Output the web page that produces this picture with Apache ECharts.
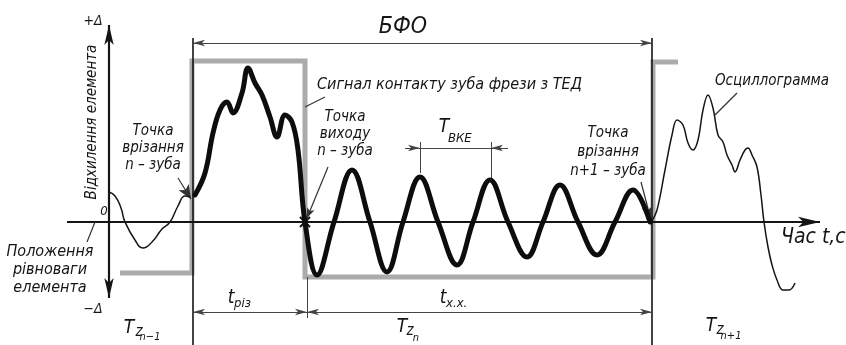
<!DOCTYPE html>
<html><head><meta charset="utf-8">
<script src="https://cdn.jsdelivr.net/npm/echarts@6/dist/echarts.min.js"></script>
<style>html,body{margin:0;padding:0;background:#fff}#c{width:846px;height:345px}</style>
</head><body><div id="c"></div>
<script>
// Time t and deviation v in arbitrary drawing units (origin at the axes crossing)
const leftWaveT  = [0, 0.6, 1.2, 1.6, 2.6, 3.4, 4.3, 5.3, 6.1, 6.9, 7.6, 8.1];
const leftWaveV  = [3.0, 2.6, 1.4, 0, -1.8, -2.6, -2.0, -0.7, 0, 1.6, 2.6, 2.5];

const mainWaveT = [8.6, 9.6, 10.4, 11.1, 11.8, 12.4, 13.3, 13.9, 14.6, 15.3, 16.1, 16.8, 17.6, 18.3, 18.9, 19.6,
  20.8, 22.5, 24.3, 26.1, 27.8, 29.4, 31.1, 32.9, 34.8, 36.4, 38.1, 39.9, 41.8, 43.4, 45.1, 46.9, 48.8, 50.6, 52.4, 54.1];
const mainWaveV = [2.7, 4.9, 8.9, 11.2, 12.0, 10.9, 12.9, 15.4, 13.9, 12.7, 10.5, 8.5, 10.7, 10.0, 7.2, 0,
  -5.3, 0, 5.2, 0, -5.0, 0, 4.5, 0, -4.3, 0, 4.2, 0, -3.5, 0, 3.7, 0, -3.3, 0, 3.2, 0];

const rightWaveT = [54.3, 54.8, 55.6, 56.3, 56.8, 57.4, 57.9, 58.4, 58.9, 59.4, 59.9, 60.4, 60.9, 61.4, 61.8, 62.3, 62.6,
  63.1, 63.6, 63.9, 64.3, 64.8, 65.2, 65.5, 65.9, 66.3, 66.8, 67.4, 68.0, 68.6];
const rightWaveV = [0.1, 1.2, 5.2, 8.7, 10.2, 9.7, 7.9, 7.2, 8.2, 11.2, 12.7, 11.4, 8.7, 8.0, 6.7, 5.7, 5.0,
  6.2, 7.2, 7.4, 6.7, 5.5, 2.7, 0, -2.5, -4.3, -5.8, -6.8, -6.8, -6.1];

const signalT = [1.1, 8.3, 8.3, 19.6, 19.6, 54.4, 54.4, 56.9];
const signalV = [-5.1, -5.1, 16.1, 16.1, -5.5, -5.5, 16.0, 16.0];

// key time marks
const tCutIn = 8.4, tExit = 19.8, tNext = 54.3;
const tPeakA = 31.1, tPeakB = 38.2;

const zip = (a, b) => a.map((x, i) => [x, b[i]]);
const FONT = "'DejaVu Sans Condensed','Liberation Sans Narrow',sans-serif";
const INK = '#151515';

function seg(a, b, s1, s2, size) {
  return [{coord: a, symbol: s1 || 'none', symbolSize: size || [7, 11]},
          {coord: b, symbol: s2 || 'none', symbolSize: size || [7, 11]}];
}
function txt(x, y, text, size, extra) {
  return Object.assign({
    type: 'text', x: x, y: y, silent: true,
    style: Object.assign({text: text, fontSize: size, fontFamily: FONT, fontStyle: 'italic',
      fill: INK, align: 'center', verticalAlign: 'middle'}, (extra && extra.style) || {})
  }, extra && extra.rotation !== undefined ? {rotation: extra.rotation} : {});
}

const chart = echarts.init(document.getElementById('c'), null, {renderer: 'canvas'});
chart.setOption({
  animation: false,
  backgroundColor: '#fff',
  grid: {left: 0, right: 0, top: 0, bottom: 0},
  xAxis: {type: 'value', min: -10.9, max: 73.7, show: false},
  yAxis: {type: 'value', min: -12.3, max: 22.2, show: false},
  series: [
    {type: 'line', name: 'signal', data: zip(signalT, signalV), symbol: 'none', z: 1,
     lineStyle: {color: '#ababab', width: 5, join: 'miter'}},
    {type: 'line', name: 'axes', data: [[0, 0]], symbol: 'none', z: 3,
     markLine: {silent: true, animation: false, label: {show: false},
       lineStyle: {color: INK, width: 2.2, type: 'solid'},
       data: [
         seg([-4.2, 0], [71.1, 0], 'none', 'arrow', [8, 22]),
         seg([0, 0], [0, 19.7], 'none', 'arrow', [7, 20]),
         seg([0, 0], [0, -7.6], 'none', 'arrow', [7, 20])
       ]}},
    {type: 'line', name: 'frame', data: [[0, 0]], symbol: 'none', z: 2,
     markLine: {silent: true, animation: false, label: {show: false},
       lineStyle: {color: INK, width: 1.6, type: 'solid'},
       data: [
         seg([tCutIn, 18.4], [tCutIn, -12.3]),
         seg([tNext, 18.4], [tNext, -12.3])
       ]}},
    {type: 'line', name: 'dims', data: [[0, 0]], symbol: 'none', z: 2,
     markLine: {silent: true, animation: false, label: {show: false},
       lineStyle: {color: '#444', width: 1, type: 'solid'},
       data: [
         seg([tCutIn, 17.9], [tNext, 17.9], 'arrow', 'arrow', [5, 12]),
         seg([tCutIn, -9.0], [tExit, -9.0], 'arrow', 'arrow', [5, 12]),
         seg([tExit, -9.0], [tNext, -9.0], 'arrow', 'arrow', [5, 12]),
         seg([tExit, -5.5], [tExit, -9.6]),
         seg([tPeakA, 4.9], [tPeakA, 8.0]),
         seg([tPeakB, 4.2], [tPeakB, 8.0]),
         seg([29.6, 7.4], [tPeakA, 7.4], 'none', 'arrow', [5, 12]),
         seg([tPeakA, 7.4], [tPeakB, 7.4]),
         seg([39.9, 7.4], [tPeakB, 7.4], 'none', 'arrow', [5, 12])
       ]}},
    {type: 'line', name: 'leaders', data: [[0, 0]], symbol: 'none', z: 4,
     markLine: {silent: true, animation: false, label: {show: false},
       lineStyle: {color: '#333', width: 1.2, type: 'solid'},
       data: [
         seg([6.9, 4.4], [8.2, 2.3], 'none', 'arrow', [9, 14]),
         seg([21.6, 12.5], [19.6, 11.5]),
         seg([21.9, 5.5], [19.8, 0.4], 'none', 'arrow', [6, 10]),
         seg([53.2, 4.0], [54.2, 0.2], 'none', 'arrow', [9, 14]),
         seg([62.8, 12.9], [60.6, 10.7]),
         seg([-2.2, -2.0], [-1.4, 0]),
         [{coord: [19.1, 0.5], symbol: 'none', lineStyle: {width: 2, color: INK}}, {coord: [20.1, -0.5], symbol: 'none'}],
         [{coord: [19.1, -0.5], symbol: 'none', lineStyle: {width: 2, color: INK}}, {coord: [20.1, 0.5], symbol: 'none'}]
       ]}},
    {type: 'line', name: 'prev', data: zip(leftWaveT, leftWaveV), symbol: 'none', smooth: 0.5, z: 5,
     lineStyle: {color: INK, width: 1.5}},
    {type: 'line', name: 'main', data: zip(mainWaveT, mainWaveV), symbol: 'none', smooth: 0.4, z: 6,
     lineStyle: {color: '#0d0d0d', width: 5, cap: 'round', join: 'round'}},
    {type: 'line', name: 'next', data: zip(rightWaveT, rightWaveV), symbol: 'none', smooth: 0.4, z: 5,
     lineStyle: {color: INK, width: 1.5}}
  ],
  graphic: {elements: [
    txt(93, 21, '+Δ', 14),
    txt(93, 309, '−Δ', 14),
    txt(104, 212, '0', 13),
    txt(92, 122, 'Відхилення елемента', 15, {rotation: Math.PI / 2}),
    txt(153, 148, 'Точка\nврізання\nn – зуба', 15, {style: {lineHeight: 17}}),
    txt(50, 270, 'Положення\nрівноваги\nелемента', 16, {style: {lineHeight: 18}}),
    txt(129, 328, 'T', 19),
    txt(139, 332, 'z', 15),
    txt(150, 337, 'n−1', 11),
    txt(403, 27, 'БФО', 23),
    txt(317, 85, 'Сигнал контакту зуба фрези з ТЕД', 16, {style: {align: 'left'}}),
    txt(345, 134, 'Точка\nвиходу\nn – зуба', 15, {style: {lineHeight: 17}}),
    txt(444, 127, 'T', 19),
    txt(448, 139, 'ВКЕ', 13, {style: {align: 'left'}}),
    txt(608, 152, 'Точка\nврізання\nn+1 – зуба', 15, {style: {lineHeight: 19}}),
    txt(772, 81, 'Осциллограмма', 15),
    txt(781, 238, 'Час t,с', 21, {style: {align: 'left'}}),
    txt(231, 298, 't', 19),
    txt(234, 304, 'різ', 13, {style: {align: 'left'}}),
    txt(443, 298, 't', 19),
    txt(446, 304, 'х.х.', 13, {style: {align: 'left'}}),
    txt(402, 327, 'T', 19),
    txt(410, 331, 'z', 15),
    txt(416, 338, 'n', 11),
    txt(711, 326, 'T', 19),
    txt(720, 330, 'z', 15),
    txt(731, 336, 'n+1', 11)
  ]}
});
</script>
</body></html>
